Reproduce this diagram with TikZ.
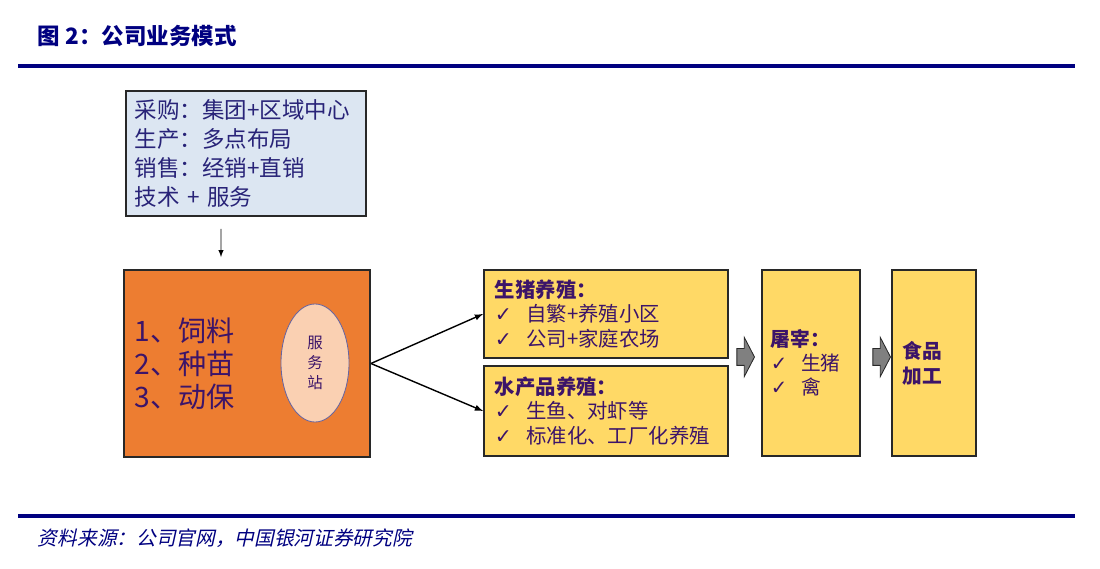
\documentclass[tikz,border=0pt]{standalone}
\usepackage{fontspec}
\setmainfont{Noto Sans CJK SC}
\newfontfamily\symfont{DejaVu Sans}
\newfontfamily\slantfont[FakeSlant=0.22]{Noto Sans CJK SC}
\usepackage{tikz}
\usetikzlibrary{shapes,arrows,positioning,calc}
\definecolor{navy}{RGB}{0,0,128}
\definecolor{inkblue}{RGB}{40,35,120}
\definecolor{inkpurple}{RGB}{60,20,105}
\definecolor{skyfill}{RGB}{220,230,242}
\definecolor{orangefill}{RGB}{237,125,49}
\definecolor{peachfill}{RGB}{250,208,178}
\definecolor{goldfill}{RGB}{255,217,102}
\definecolor{edgegray}{RGB}{40,40,40}
\definecolor{arrowgray}{RGB}{128,128,128}
\newcommand\checkitem{{\symfont\bfseries\char"2713}\hspace{0.7em}}

\begin{document}
\begin{tikzpicture}[x=0.025cm, y=-0.025cm,
    box/.style={draw=edgegray, line width=1.3pt, rectangle, align=left, inner ysep=0pt},
    goldbox/.style={box, fill=goldfill, text=inkpurple},
    blockarrow/.style={single arrow, draw=edgegray, fill=arrowgray, line width=0.6pt,
        inner xsep=0pt, inner ysep=0.2cm, minimum height=0.44cm,
        single arrow head extend=0.28cm, single arrow tip angle=125},
    rulebar/.style={draw=navy, line width=2.8pt}
]
\useasboundingbox (0,0) rectangle (1100,569);

% Title and rules
\node[anchor=west, text=navy, font={\fontsize{16}{19}\selectfont\bfseries}] (title) at (33,36) {图 2：公司业务模式};
\coordinate (topL) at (18,66);
\coordinate (topR) at (1075,66);
\draw[rulebar] (topL) -- (topR);

% Purchasing / production / sales
\node[box, fill=skyfill, text=inkblue, minimum width=6cm, minimum height=3.125cm,
      inner xsep=0.225cm, text width=5.55cm, font={\fontsize{16}{20.6}\selectfont}] (proc) at (246,153.5)
      {采购：集团+区域中心\\生产：多点布局\\销售：经销+直销\\技术 + 服务};

% Feed / breeding / animal health
\node[box, fill=orangefill, text=inkpurple, minimum width=6.15cm, minimum height=4.675cm,
      inner xsep=0.275cm, text width=5.6cm, font={\fontsize{20}{23.4}\selectfont}] (feed) at (247,363.5)
      {1、饲料\\2、种苗\\3、动保};
\node[ellipse, draw=inkblue!70, line width=0.6pt, fill=peachfill, text=inkpurple, align=center,
      minimum width=1.7cm, minimum height=2.95cm, inner sep=0pt,
      font={\fontsize{11}{14}\selectfont}] (station) at (315,363) {服\\务\\站};

% Farming
\node[goldbox, minimum width=6.1cm, minimum height=2.2cm, inner xsep=0.275cm, text width=5.55cm,
      font={\fontsize{14.5}{17.4}\selectfont}] (pig) at (606,314)
      {\textbf{生猪养殖：}\\\checkitem 自繁+养殖小区\\\checkitem 公司+家庭农场};
\node[goldbox, minimum width=6.1cm, minimum height=2.25cm, inner xsep=0.275cm, text width=5.55cm,
      font={\fontsize{14.5}{17.4}\selectfont}] (fish) at (606,411)
      {\textbf{水产品养殖：}\\\checkitem 生鱼、对虾等\\\checkitem 标准化、工厂化养殖};

% Slaughter and food processing
\node[goldbox, minimum width=2.45cm, minimum height=4.65cm, inner xsep=0.225cm, text width=2cm,
      font={\fontsize{14}{17.2}\selectfont}] (slaughter) at (811,363)
      {\textbf{屠宰：}\\\checkitem 生猪\\\checkitem 禽};
\node[goldbox, minimum width=2.1cm, minimum height=4.65cm, inner xsep=0.275cm, text width=1.55cm,
      font={\fontsize{14}{17.7}\selectfont}] (food) at (934,363)
      {\textbf{食品}\\\textbf{加工}};

% Block arrows
\node[blockarrow] (step1) at (743.5,357) {};
\node[blockarrow] (step2) at (879.5,357) {};

% Connections
\draw[-latex, line width=0.7pt] ([xshift=-0.625cm,yshift=-0.3cm]proc.south) -- ([xshift=-0.65cm,yshift=0.3cm]feed.north);
\draw[-latex, line width=1pt] (feed.east) -- (pig.west);
\draw[-latex, line width=1pt] (feed.east) -- (fish.west);

% Source
\coordinate (botL) at (18,516);
\coordinate (botR) at (1075,516);
\draw[rulebar] (botL) -- (botR);
\node[anchor=west, text=navy, font={\fontsize{14}{17}\selectfont\slantfont}] (source) at (33,538)
      {资料来源：公司官网，中国银河证券研究院};

\end{tikzpicture}
\end{document}
